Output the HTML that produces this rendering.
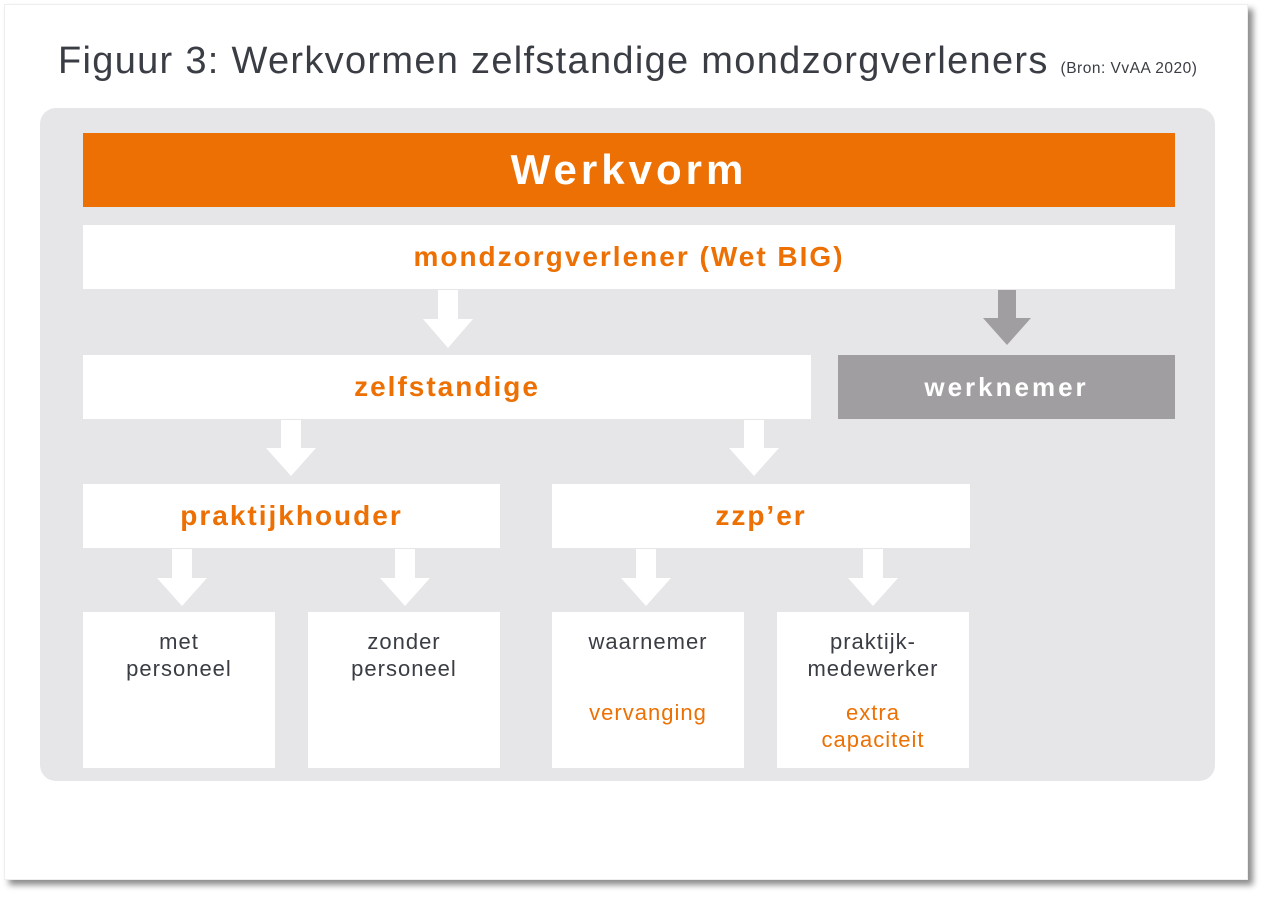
<!DOCTYPE html>
<html><head><style>
body{margin:0;width:1267px;height:900px;background:#fff;position:relative;overflow:hidden;font-family:"Liberation Sans",sans-serif}
.card{position:absolute;left:4px;top:4px;width:1242px;height:874px;background:#fff;box-shadow:5px 5px 6px rgba(0,0,0,0.45);border:1px solid #eee}
.t{position:absolute;left:58px;top:40px;font-size:38px;color:#3a3d44;white-space:nowrap;letter-spacing:1.3px}
.t small{font-size:15.5px;letter-spacing:0.5px}
.panel{position:absolute;left:40px;top:108px;width:1175px;height:673px;background:#e6e5e8;border-radius:16px}
.b{position:absolute;background:#fff;display:flex;align-items:center;justify-content:center;text-align:center;font-weight:bold;color:#ec7003;font-size:28px;letter-spacing:2px}
.s{position:absolute;background:#fff;text-align:center;color:#3a3d44;font-size:22px;letter-spacing:1px;line-height:27px;padding-top:16px;box-sizing:border-box}
.s .o{color:#ec7003;margin-top:44px}
svg{position:absolute;left:0;top:0}
</style></head><body>
<div class="card"></div>
<div class="t">Figuur 3: Werkvormen zelfstandige mondzorgverleners <small>(Bron: VvAA 2020)</small></div>
<div class="panel"></div>
<div class="b" style="left:83px;top:133px;width:1092px;height:74px;background:#ec7003;color:#fff;font-size:42px;letter-spacing:4px">Werkvorm</div>
<div class="b" style="left:83px;top:225px;width:1092px;height:64px">mondzorgverlener (Wet BIG)</div>
<div class="b" style="left:83px;top:355px;width:728px;height:64px">zelfstandige</div>
<div class="b" style="left:838px;top:355px;width:337px;height:64px;font-size:26px;letter-spacing:3px;background:#a19ea1;color:#fff">werknemer</div>
<div class="b" style="left:83px;top:484px;width:417px;height:64px">praktijkhouder</div>
<div class="b" style="left:552px;top:484px;width:418px;height:64px">zzp’er</div>
<div class="s" style="left:83px;top:612px;width:192px;height:156px">met<br>personeel</div>
<div class="s" style="left:308px;top:612px;width:192px;height:156px">zonder<br>personeel</div>
<div class="s" style="left:552px;top:612px;width:192px;height:156px">waarnemer<div class="o">vervanging</div></div>
<div class="s" style="left:777px;top:612px;width:192px;height:156px">praktijk-<br>medewerker<div class="o" style="margin-top:17px">extra<br>capaciteit</div></div>
<svg width="1267" height="900">
<g fill="#fff">
<polygon points="438,290 458,290 458,319 473,319 448,348 423,319 438,319"/>
<polygon points="281,420 301,420 301,448 316,448 291,476 266,448 281,448"/>
<polygon points="744,420 764,420 764,448 779,448 754,476 729,448 744,448"/>
<polygon points="172,549 192,549 192,578 207,578 182,606 157,578 172,578"/>
<polygon points="395,549 415,549 415,578 430,578 405,606 380,578 395,578"/>
<polygon points="636,549 656,549 656,578 671,578 646,606 621,578 636,578"/>
<polygon points="863,549 883,549 883,578 898,578 873,606 848,578 863,578"/>
</g>
<polygon fill="#a19ea1" points="998,290 1016,290 1016,318 1031,318 1007,345 983,318 998,318"/>
</svg>
</body></html>
